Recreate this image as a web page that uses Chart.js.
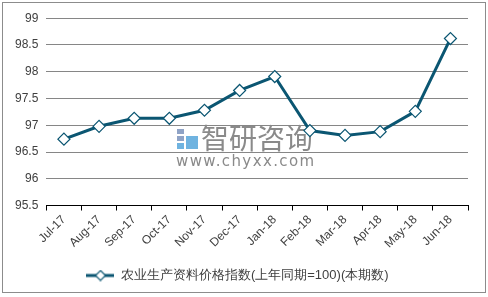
<!DOCTYPE html>
<html>
<head>
<meta charset="utf-8">
<script src="https://cdn.jsdelivr.net/npm/chart.js@4/dist/chart.umd.min.js"></script>
<style>
  html, body { margin: 0; padding: 0; background: #fff; }
  #wrap {
    position: absolute; left: 2px; top: 2px;
    width: 482px; height: 289px;
    border: 1px solid #8c8c8c;
  }
</style>
</head>
<body>
<div id="wrap"><canvas id="priceChart"></canvas></div>
<script>
const months = ['Jul-17', 'Aug-17', 'Sep-17', 'Oct-17', 'Nov-17', 'Dec-17',
                'Jan-18', 'Feb-18', 'Mar-18', 'Apr-18', 'May-18', 'Jun-18'];
const priceIndex = [96.74, 96.98, 97.13, 97.13, 97.28, 97.65,
                    97.91, 96.9, 96.81, 96.88, 97.26, 98.62];
const seriesName = '农业生产资料价格指数(上年同期=100)(本期数)';
const yMin = 95.5, yMax = 99, yStep = 0.5;

const lineColor = '#0b5672';
const textColor = '#404040';
const fontFamily = '"Liberation Sans", Arial, sans-serif';

// little legend sample: line with a diamond on it
function legendIcon() {
    const c = document.createElement('canvas');
    c.width = 28; c.height = 12;
    const g = c.getContext('2d');
    g.strokeStyle = lineColor;
    g.lineWidth = 3;
    g.beginPath(); g.moveTo(0, 6); g.lineTo(28, 6); g.stroke();
    g.fillStyle = '#fff';
    g.lineWidth = 1.2;
    g.beginPath();
    g.moveTo(14, 1); g.lineTo(19, 6); g.lineTo(14, 11); g.lineTo(9, 6); g.closePath();
    g.fill(); g.stroke();
    return c;
}

const watermark = {
    id: 'watermark',
    beforeDatasetsDraw(chart) {
        const ctx = chart.ctx;
        ctx.save();
        // logo blocks
        ctx.fillStyle = '#8fa3c6';
        ctx.fillRect(174, 126, 7, 5);
        ctx.fillRect(174, 133, 7, 5);
        ctx.fillStyle = '#6fb3e0';
        ctx.fillRect(174, 140, 7, 6);
        ctx.fillRect(183, 133, 12, 13);
        ctx.fillStyle = '#8a8a8a';
        ctx.font = '28px "Noto Sans CJK SC", sans-serif';
        ctx.textBaseline = 'middle';
        ctx.fillText('智研咨询', 198, 135);
        ctx.font = '15px "DejaVu Sans", sans-serif';
        ctx.letterSpacing = '1.4px';
        ctx.fillText('www.chyxx.com', 173, 159);
        ctx.restore();
    }
};

new Chart(document.getElementById('priceChart'), {
    type: 'line',
    data: {
        labels: months,
        datasets: [{
            label: seriesName,
            data: priceIndex,
            borderColor: lineColor,
            borderWidth: 3,
            tension: 0,
            pointStyle: 'rectRot',
            pointRadius: 6,
            pointBorderWidth: 1.2,
            pointBackgroundColor: '#fff',
            pointBorderColor: lineColor,
            fill: false
        }]
    },
    options: {
        responsive: true,
        maintainAspectRatio: false,
        animation: false,
        layout: { padding: { left: 4, right: 17, top: 8, bottom: 0 } },
        plugins: {
            tooltip: { enabled: false },
            legend: {
                position: 'bottom',
                labels: {
                    usePointStyle: true,
                    pointStyleWidth: 28,
                    boxHeight: 12,
                    padding: 16,
                    color: textColor,
                    font: { family: fontFamily, size: 13 },
                    generateLabels: () => [{
                        text: seriesName,
                        pointStyle: legendIcon(),
                        fontColor: textColor,
                        lineWidth: 0,
                        datasetIndex: 0
                    }]
                }
            }
        },
        scales: {
            x: {
                offset: true,
                grid: {
                    display: true,
                    drawOnChartArea: false,
                    drawTicks: true,
                    tickLength: 5,
                    color: '#000',
                    offset: true
                },
                border: { color: '#000', width: 1 },
                ticks: {
                    color: textColor,
                    font: { family: fontFamily, size: 12 },
                    minRotation: 45,
                    maxRotation: 45,
                    padding: 2
                }
            },
            y: {
                min: yMin,
                max: yMax,
                grid: {
                    color: '#868686',
                    drawTicks: false
                },
                border: { display: false },
                ticks: {
                    stepSize: yStep,
                    color: textColor,
                    font: { family: fontFamily, size: 12 },
                    padding: 8,
                    callback: (v) => String(Number(v.toFixed(1)))
                }
            }
        }
    },
    plugins: [watermark]
});
</script>
</body>
</html>
